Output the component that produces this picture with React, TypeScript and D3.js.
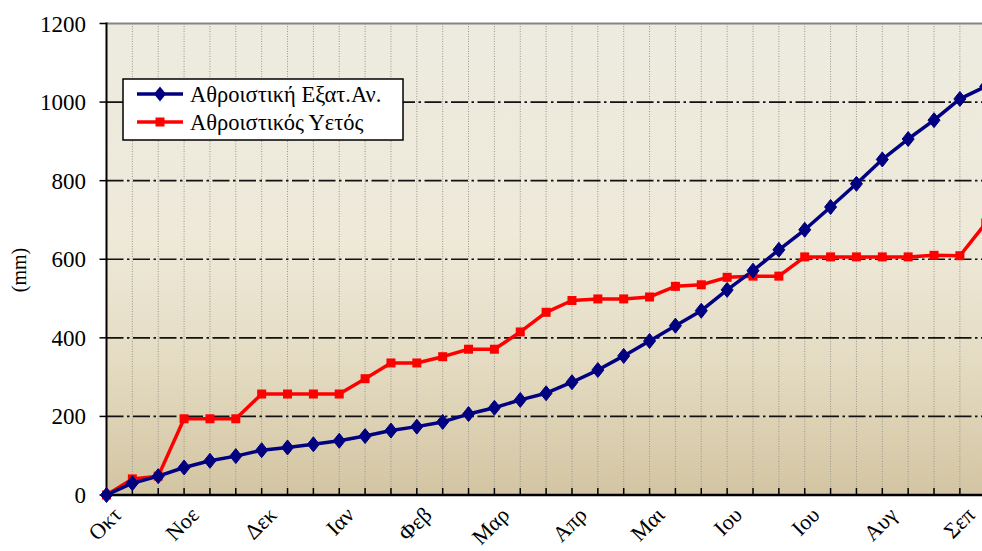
import React from "react";
import * as d3 from "d3";

const months = ["Οκτ", "Νοε", "Δεκ", "Ιαν", "Φεβ", "Μαρ", "Απρ", "Μαι", "Ιου", "Ιου", "Αυγ", "Σεπ"];
const yTicks = [0, 200, 400, 600, 800, 1000, 1200];
const evap = [0, 30, 48, 70, 87, 99, 114, 121, 129, 138, 150, 164, 174, 186, 206, 222, 242, 259, 287, 318, 354, 392, 431, 469, 522, 571, 624, 675, 733, 792, 854, 906, 954, 1008, 1040];
const rain = [0, 41, 48, 194, 194, 194, 257, 257, 257, 257, 296, 336, 336, 352, 371, 371, 415, 465, 495, 499, 499, 504, 531, 535, 554, 557, 557, 606, 606, 606, 606, 606, 610, 609, 692];
const seriesNames = ["Αθροιστική Εξατ.Αν.", "Αθροιστικός Υετός"];

const W = 982, H = 551;
const X0 = 106.5, STEP = 25.86;
const YTOP = 23.5, YBOT = 495;

export default function App() {
  const x = d3.scaleLinear().domain([0, 34]).range([X0, X0 + 34 * STEP]);
  const y = d3.scaleLinear().domain([0, 1200]).range([YBOT, YTOP]);
  const line = d3.line<number>().x((_, i) => x(i)).y((d) => y(d));
  const font = "'Liberation Serif', 'Times New Roman', serif";
  const tickIdx = d3.range(0, 35);
  const diamond = "M0,-7.5L6,0L0,7.5L-6,0Z";

  return (
    <div style={{ position: "absolute", left: 0, top: 0, width: W, height: H }}>
      <svg width={W} height={H} style={{ display: "block", overflow: "hidden" }} fontFamily={font}>
        <defs>
          <linearGradient id="bg" x1="0" y1="0" x2="0" y2="1">
            <stop offset="0" stopColor="#EDEBE0" />
            <stop offset="0.45" stopColor="#EEE9D9" />
            <stop offset="0.72" stopColor="#E4DBC2" />
            <stop offset="1" stopColor="#D3C5A2" />
          </linearGradient>
        </defs>
        <rect x={X0} y={YTOP} width={W - X0} height={YBOT - YTOP} fill="url(#bg)" />
        {tickIdx.slice(1).map((i) => (
          <line key={"vg" + i} x1={x(i)} x2={x(i)} y1={YTOP} y2={YBOT} stroke="#9a968c" strokeWidth={1} strokeDasharray="1,1.5" />
        ))}
        {yTicks.slice(1, -1).map((v) => (
          <line key={"hg" + v} x1={X0} x2={W} y1={y(v)} y2={y(v)} stroke="#111" strokeWidth={1.6} strokeDasharray="17,3.5,2.5,3.5" />
        ))}
        <line x1={X0} x2={W} y1={YTOP} y2={YTOP} stroke="#858585" strokeWidth={2} />
        <line x1={X0} x2={X0} y1={YTOP - 1} y2={YBOT + 1} stroke="#000" strokeWidth={2} />
        <line x1={X0} x2={W} y1={YBOT} y2={YBOT} stroke="#000" strokeWidth={2.5} />
        {yTicks.map((v) => (
          <g key={"yt" + v}>
            <line x1={X0 - 7} x2={X0} y1={y(v)} y2={y(v)} stroke="#000" strokeWidth={1.5} />
            <text x={86} y={y(v)} dy="0.35em" textAnchor="end" fontSize={23} fill="#000">{v}</text>
          </g>
        ))}
        {tickIdx.map((i) => (
          <line key={"xt" + i} x1={x(i)} x2={x(i)} y1={YBOT - 7} y2={YBOT} stroke="#000" strokeWidth={1.5} />
        ))}
        {months.map((m, k) => {
          const px = x(k * 3) + 7, py = YBOT + 12;
          return (
            <text key={"xl" + k} x={px} y={py} dy="0.6em" textAnchor="end" fontSize={22} fill="#000"
              transform={`rotate(-45 ${px} ${py})`}>{m}</text>
          );
        })}
        <text transform="rotate(-90 26 270)" x={26} y={270} textAnchor="middle" fontSize={20} fill="#000">(mm)</text>
        <path d={line(rain) || ""} fill="none" stroke="#FF0000" strokeWidth={3.5} strokeLinejoin="round" />
        <path d={line(evap) || ""} fill="none" stroke="#000080" strokeWidth={3.5} strokeLinejoin="round" />
        {rain.map((v, i) => (
          <rect key={"rm" + i} x={x(i) - 4.5} y={y(v) - 4.5} width={9} height={9} fill="#FF0000" />
        ))}
        {evap.map((v, i) => (
          <path key={"bm" + i} d={diamond} transform={`translate(${x(i)},${y(v)})`} fill="#000080" stroke="#000080" strokeWidth={1} />
        ))}
        <rect x={123} y={79} width={280} height={61} fill="#fff" stroke="#000" strokeWidth={1.5} />
        <line x1={137} x2={183} y1={94} y2={94} stroke="#000080" strokeWidth={3.5} />
        <path d={diamond} transform="translate(160,94)" fill="#000080" />
        <line x1={137} x2={183} y1={122} y2={122} stroke="#FF0000" strokeWidth={3.5} />
        <rect x={155.5} y={117.5} width={9} height={9} fill="#FF0000" />
        <text x={190} y={94} dy="0.35em" fontSize={22.5} fill="#000">{seriesNames[0]}</text>
        <text x={190} y={122} dy="0.35em" fontSize={22.5} fill="#000">{seriesNames[1]}</text>
      </svg>
    </div>
  );
}
